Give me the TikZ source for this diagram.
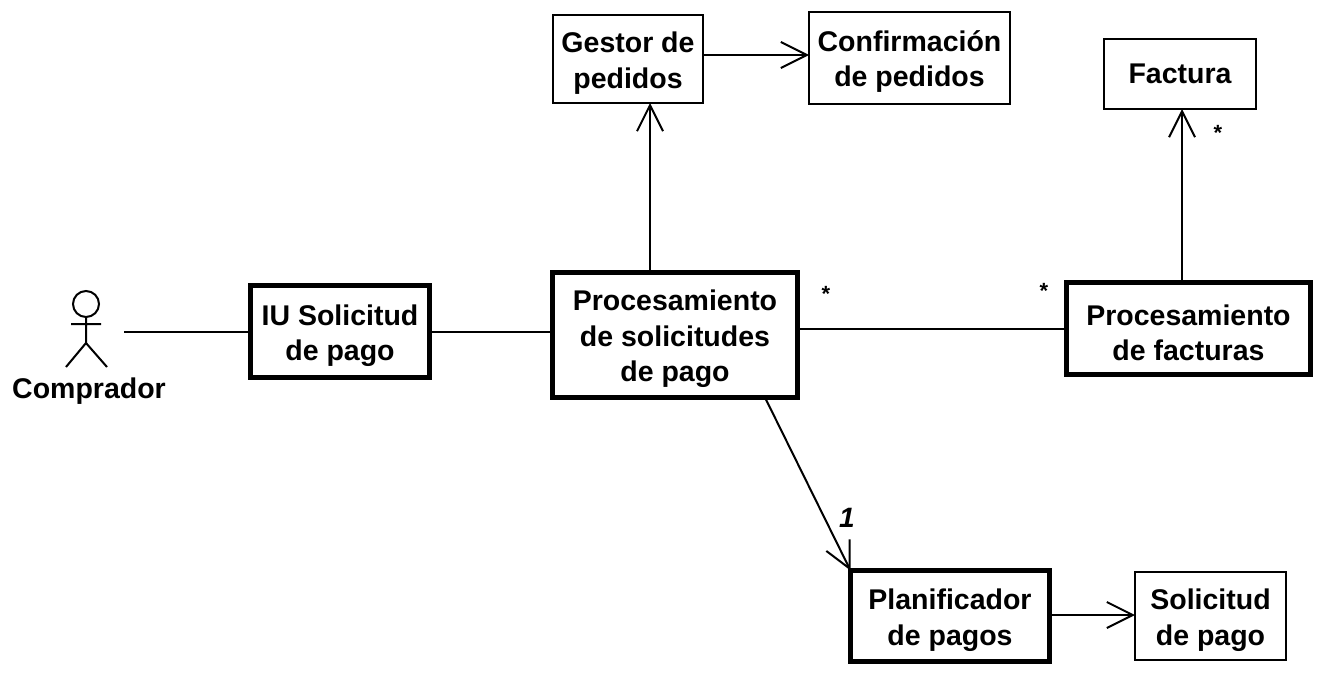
\documentclass[tikz,border=0pt]{standalone}
\usepackage{fontspec}
\setmainfont{Liberation Sans}
\usetikzlibrary{arrows.meta}
\newcommand{\toplift}{\rule{0pt}{29pt}}
\begin{document}
\begin{tikzpicture}[x=1pt,y=-1pt,
  thinbox/.style={draw,line width=2pt,fill=white,inner sep=0pt,outer sep=0pt,align=center,font=\fontsize{28.5}{35.5}\selectfont\bfseries},
  thickbox/.style={thinbox,line width=4.8pt},
  conn/.style={line width=2pt},
  actorline/.style={line width=2pt},
  arr/.style={conn,-{Straight Barb[length=26pt,width=26pt,line width=2pt]}},
  lab/.style={inner sep=0pt,font=\fontsize{28.5}{30}\selectfont\bfseries},
  star/.style={inner sep=0pt,font=\fontsize{22}{24}\selectfont\bfseries}]
\useasboundingbox (0,0) rectangle (1323,675);
\fill[white] (0,0) rectangle (1323,675);
\node[thinbox,minimum width=150pt,minimum height=88pt] (gestor) at (628,59) {\toplift Gestor de\\pedidos};
\node[thinbox,minimum width=201pt,minimum height=92pt] (conf) at (909.5,57.5) {\toplift Confirmación\\de pedidos};
\node[thinbox,minimum width=152pt,minimum height=70pt] (fact) at (1180,74) {Factura};
\node[thickbox,minimum width=179pt,minimum height=92pt] (iu) at (340,331.5) {\toplift IU Solicitud\\de pago};
\node[thickbox,minimum width=245pt,minimum height=125pt] (proc) at (675,335) {\toplift Procesamiento\\de solicitudes\\de pago};
\node[thickbox,minimum width=244pt,minimum height=92pt] (pf) at (1188.5,328.5) {\toplift Procesamiento\\de facturas};
\node[thickbox,minimum width=199pt,minimum height=91pt] (plan) at (950,616) {\toplift Planificador\\de pagos};
\node[thinbox,minimum width=151pt,minimum height=88pt] (sol) at (1210.5,616) {\toplift Solicitud\\de pago};
\coordinate (act) at (124,331.5);
\draw[actorline] (86,304) circle (13);
\draw[actorline] (86,317) -- (86,343) (71,324) -- (101,324) (86,343) -- (66,367) (86,343) -- (107,367);
\node[lab] (comp) at (89,391) {Comprador};
\draw[conn] (act) -- (iu.west);
\draw[conn] (iu.east) -- (proc.west |- iu.east);
\draw[conn] (proc.east |- pf.west) -- (pf.west);
\draw[arr] ([xshift=22pt]gestor.south |- proc.north) -- ([xshift=22pt]gestor.south);
\draw[arr] ([yshift=4pt]gestor.east) -- ([yshift=4pt]gestor.east -| conf.west);
\draw[arr] ([xshift=2pt]fact.south |- pf.north) -- ([xshift=2pt]fact.south);
\draw[arr] ([xshift=90pt]proc.south) -- (plan.north west);
\draw[arr] ([yshift=1pt]plan.east) -- ([yshift=1pt]plan.east -| sol.west);
\node[star] (s1) at (826,294) {*};
\node[star] (s2) at (1044,291) {*};
\node[star] (s3) at (1218,133) {*};
\node[lab,font=\fontsize{28}{30}\selectfont\bfseries\itshape] (n1) at (847,518) {1};
\end{tikzpicture}
\end{document}
